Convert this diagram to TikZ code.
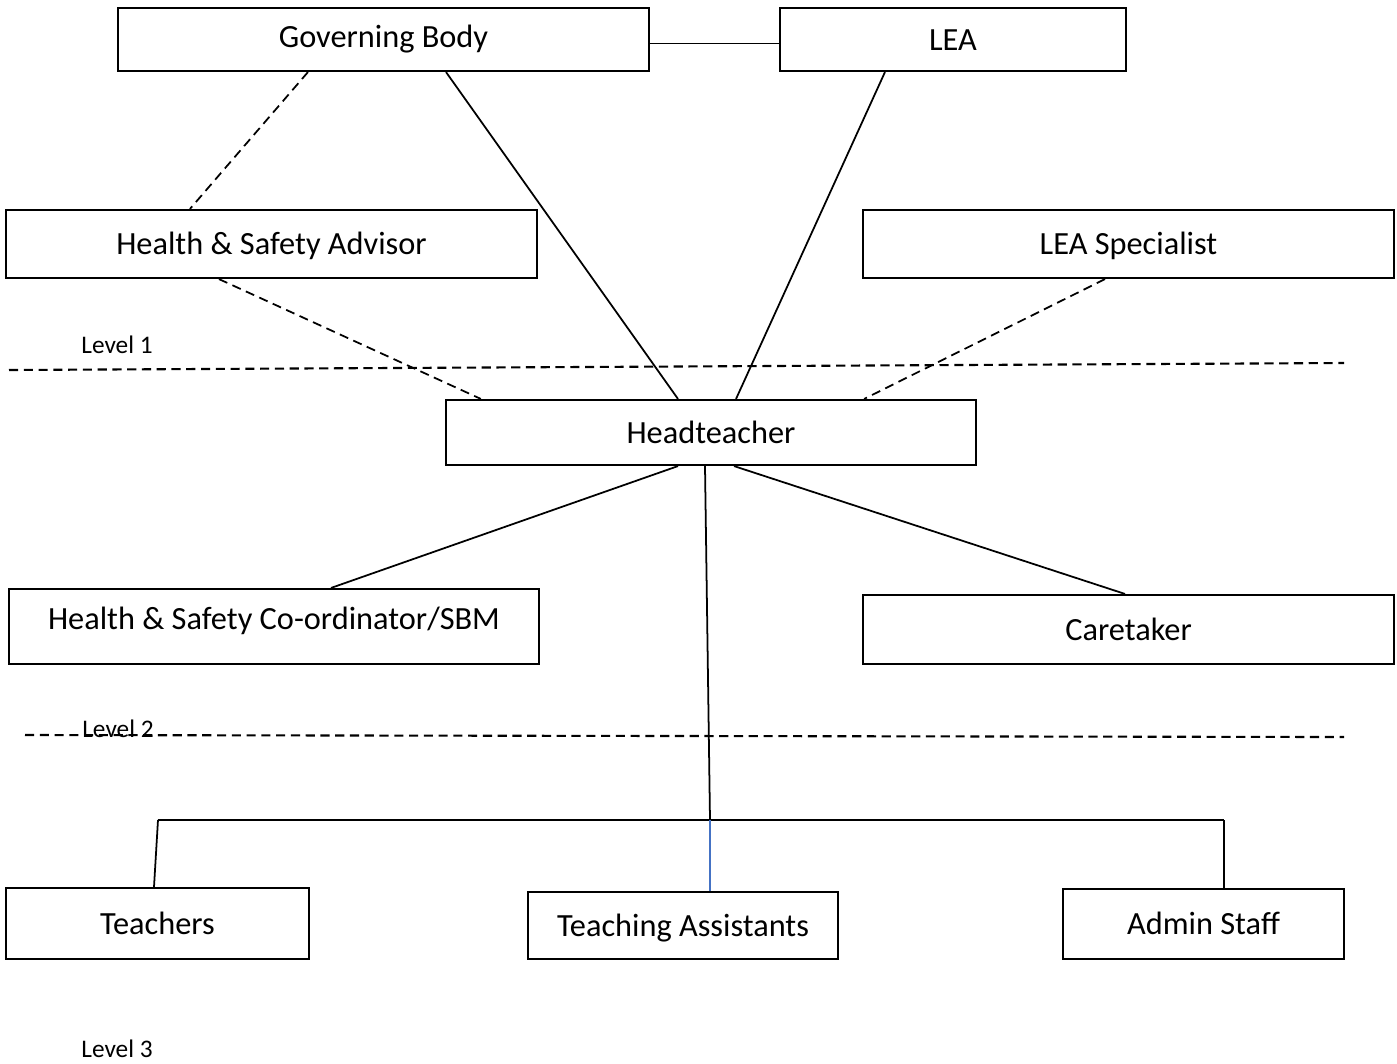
\documentclass[tikz,border=0pt]{standalone}
\usepackage{fontspec}
\setmainfont{Carlito}
\begin{document}
\begin{tikzpicture}[x=0.01cm, y=-0.01cm,
	box/.style={draw, line width=0.6pt, inner sep=0pt, text height=1.5ex, text depth=0.25ex, font=\fontsize{9.2}{11}\selectfont},
	link/.style={line width=0.5pt},
	dlink/.style={line width=0.5pt, dash pattern=on 2.6pt off 1.6pt},
	levelline/.style={line width=0.6pt, dash pattern=on 2.6pt off 1.6pt},
	leveltxt/.style={inner sep=0pt, font=\fontsize{7.2}{9}\selectfont}]

	\definecolor{tablue}{RGB}{68,114,196}
	\useasboundingbox (0,0) rectangle (1397,1063);

	%Ebenen
	\draw [levelline] (9, 370) -- (1344, 363);
	\draw [levelline] (25, 735) -- (1344, 737);
	\node [leveltxt] (lvl1) at (117, 345) {Level 1};
	\node [leveltxt] (lvl2) at (118, 729) {Level 2};
	\node [leveltxt] (lvl3) at (117, 1049) {Level 3};

	%Kaesten
	\node [box, minimum width=5.31cm, minimum height=0.63cm, text depth=0.9mm] (gb) at (383.5, 39.5) {Governing Body};
	\node [box, minimum width=3.46cm, minimum height=0.63cm] (lea) at (953, 39.5) {LEA};
	\node [box, minimum width=5.31cm, minimum height=0.68cm] (hsa) at (271.5, 244) {Health \& Safety Advisor};
	\node [box, minimum width=5.31cm, minimum height=0.68cm] (leas) at (1128.5, 244) {LEA Specialist};
	\node [box, minimum width=5.30cm, minimum height=0.65cm] (head) at (711, 432.5) {Headteacher};
	\node [box, minimum width=5.30cm, minimum height=0.75cm, text depth=2mm] (hsc) at (274, 626.5) {Health \& Safety Co-ordinator/SBM};
	\node [box, minimum width=5.31cm, minimum height=0.69cm] (care) at (1128.5, 629.5) {Caretaker};
	\node [box, minimum width=3.03cm, minimum height=0.71cm] (teach) at (157.5, 923.5) {Teachers};
	\node [box, minimum width=3.10cm, minimum height=0.67cm] (ta) at (683, 925.5) {Teaching Assistants};
	\node [box, minimum width=2.81cm, minimum height=0.70cm] (admin) at (1203.5, 924) {Admin Staff};

	\coordinate (bar) at (710, 820);
	\coordinate (barl) at (158, 820);
	\coordinate (barr) at (1224, 820);

	%Verbindungen
	\draw [link] ([yshift=-0.04cm]gb.east) -- ([yshift=-0.04cm]lea.west);
	\draw [dlink] ([xshift=-0.755cm]gb.south) -- ([xshift=-0.815cm]hsa.north);
	\draw [link] ([xshift=0.625cm]gb.south) -- ([xshift=-0.33cm]head.north);
	\draw [link] ([xshift=-0.68cm]lea.south) -- ([xshift=0.25cm]head.north);
	\draw [dlink] ([xshift=-0.525cm]hsa.south) -- ([xshift=-2.30cm]head.north);
	\draw [dlink] ([xshift=-0.235cm]leas.south) -- ([xshift=1.53cm]head.north);
	\draw [link] ([xshift=-0.33cm]head.south) -- ([xshift=0.57cm]hsc.north);
	\draw [link] ([xshift=0.23cm]head.south) -- ([xshift=-0.035cm]care.north);
	\draw [link] ([xshift=-0.06cm]head.south) -- (bar);
	\draw [link] (barl) -- (barr);
	\draw [link] (barl) -- ([xshift=-0.035cm]teach.north);
	\draw [link] (barr) -- ([xshift=0.205cm]admin.north);
	\draw [link, draw=tablue] (bar) -- ([xshift=0.27cm]ta.north);

\end{tikzpicture}
\end{document}
